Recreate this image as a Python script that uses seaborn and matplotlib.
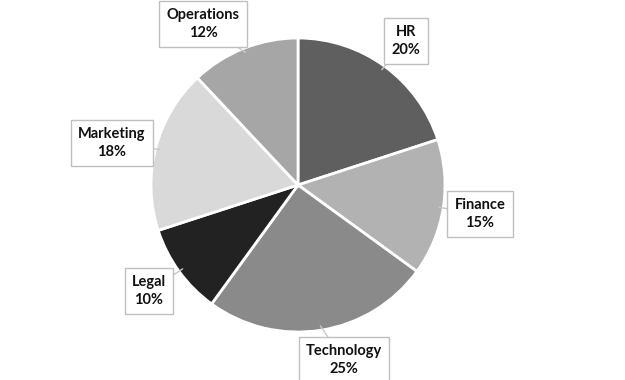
import numpy as np
import seaborn as sns
import matplotlib.pyplot as plt

# data
departments = ["HR", "Finance", "Technology", "Legal", "Marketing", "Operations"]
shares = [20, 15, 25, 10, 18, 12]
colors = ["#5f5f5f", "#b2b2b2", "#8a8a8a", "#222222", "#d9d9d9", "#a6a6a6"]
# label box centres in pixel coords (x, y from top)
label_pos = [(406, 41), (480, 214), (344, 360), (149, 291), (112, 143), (203, 24)]

sns.set_style("white")
plt.rcParams['font.family'] = ['Lato', 'DejaVu Sans']

W, H = 625, 380
fig = plt.figure(figsize=(W / 100, H / 100), dpi=100)
ax = fig.add_axes([0, 0, 1, 1])

cx, cy, r = 298, H - 185, 147
wedges, _ = ax.pie(shares, colors=colors, startangle=90, counterclock=False,
                   center=(cx, cy), radius=r,
                   wedgeprops=dict(edgecolor="white", linewidth=2))

total = sum(shares)
cum = np.cumsum([0] + shares)
for i, (name, val) in enumerate(zip(departments, shares)):
    mid = 90 - (cum[i] + val / 2) / total * 360
    tip = (cx + r * 0.97 * np.cos(np.radians(mid)), cy + r * 0.97 * np.sin(np.radians(mid)))
    lx, ly = label_pos[i]
    ax.annotate(f"{name}\n{val}%", xy=tip, xytext=(lx, H - ly),
                ha="center", va="center", fontsize=10.5, fontweight="bold",
                color="#111111", linespacing=1.3,
                bbox=dict(boxstyle="square,pad=0.5", fc="white", ec="#c0c0c0", lw=1),
                arrowprops=dict(arrowstyle="-", color="#c8c8c8", lw=1,
                                shrinkA=0, shrinkB=0))

ax.set_xlim(0, W)
ax.set_ylim(0, H)
ax.set_aspect("equal")
ax.axis("off")

fig.savefig("out.png", dpi=100)
